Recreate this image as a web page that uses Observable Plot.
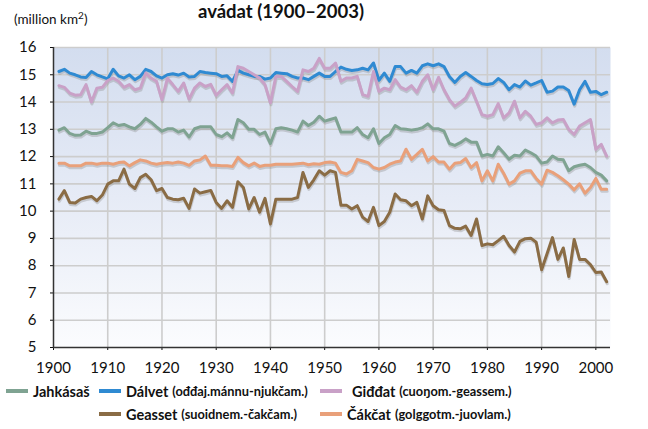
<!DOCTYPE html>
<html>
<head>
<meta charset="utf-8">
<script src="https://cdn.jsdelivr.net/npm/d3@7"></script>
<script src="https://cdn.jsdelivr.net/npm/@observablehq/plot@0.6"></script>
<style>
  body { margin: 0; background: #fff; font-family: Lato, "Open Sans", sans-serif; color: #111; }
  #wrap { position: relative; width: 648px; height: 429px; overflow: hidden; }
  #title { position: absolute; top: 0px; left: 0; width: 562px; text-align: center; font-size: 18.5px; line-height: 23px; font-weight: 700; white-space: nowrap; }
  #unit { position: absolute; top: 11px; left: 14px; font-size: 13.5px; white-space: nowrap; }
  #unit sup { font-size: 10px; vertical-align: 5px; line-height: 0; }
  #chart { position: absolute; top: 0; left: 0; }
  .item { position: absolute; display: flex; align-items: center; height: 20px; white-space: nowrap; font-weight: 700; }
  .sw { display: inline-block; width: 22px; height: 3.5px; margin-right: 5px; }
  .main { font-size: 14.5px; }
  .sub { font-size: 12.8px; margin-left: 4px; }
</style>
</head>
<body>
<div id="wrap">
  <div id="title">avádat (1900–2003)</div>
  <div id="unit">(million km<sup>2</sup>)</div>
  <div id="chart"></div>
  <div id="legend"></div>
</div>
<script>
// Years and series (million km²)
const years = [
  1901,1902,1903,1904,1905,1906,1907,1908,1909,1910,
  1911,1912,1913,1914,1915,1916,1917,1918,1919,1920,
  1921,1922,1923,1924,1925,1926,1927,1928,1929,1930,
  1931,1932,1933,1934,1935,1936,1937,1938,1939,1940,
  1941,1942,1943,1944,1945,1946,1947,1948,1949,1950,
  1951,1952,1953,1954,1955,1956,1957,1958,1959,1960,
  1961,1962,1963,1964,1965,1966,1967,1968,1969,1970,
  1971,1972,1973,1974,1975,1976,1977,1978,1979,1980,
  1981,1982,1983,1984,1985,1986,1987,1988,1989,1990,
  1991,1992,1993,1994,1995,1996,1997,1998,1999,2000,
  2001,2002
];

const jahkasas = [
  12.97,13.06,12.85,12.78,12.79,12.93,12.85,12.85,12.9,13.06,
  13.24,13.14,13.18,13.09,13.02,13.18,13.4,13.26,13.09,12.93,
  13.02,13.02,12.9,12.97,12.72,13.02,13.09,13.09,13.09,12.81,
  12.73,12.87,12.69,13.36,13.24,13.0,13.0,12.81,12.9,12.48,
  13.02,13.06,13.02,12.97,12.9,13.3,13.14,13.26,13.48,13.3,
  13.36,13.42,12.9,12.9,12.9,13.06,12.81,12.69,13.02,12.48,
  12.69,12.81,13.14,13.02,13.0,12.97,13.0,13.06,13.2,13.02,
  13.02,12.93,12.48,12.41,12.51,12.65,12.53,12.53,12.02,12.08,
  12.02,12.36,12.14,11.9,12.05,12.02,12.24,12.14,12.02,11.76,
  11.8,12.02,11.9,11.88,11.48,11.63,11.68,11.72,11.6,11.42,
  11.32,11.11
];

const dalvet = [
  15.12,15.2,15.06,15.0,14.92,14.9,15.12,15.0,14.92,14.85,
  15.2,14.96,14.88,15.0,14.82,14.94,15.2,15.12,14.96,14.88,
  15.0,15.04,14.99,15.06,14.92,14.94,15.12,15.08,15.06,15.04,
  14.94,14.96,14.76,15.16,15.06,15.0,14.94,14.94,14.84,14.88,
  15.08,15.06,15.04,14.94,14.88,14.88,14.82,14.94,15.06,14.94,
  14.94,15.12,15.28,15.2,15.16,15.18,15.24,15.18,15.43,14.8,
  15.06,14.76,15.3,15.3,15.06,15.16,15.06,15.33,15.4,15.33,
  15.4,15.3,14.94,14.72,14.94,15.08,14.94,14.79,14.67,14.64,
  14.68,14.86,14.72,14.45,14.64,14.55,14.77,14.62,14.7,14.79,
  14.36,14.4,14.55,14.55,14.42,13.92,14.45,14.76,14.36,14.39,
  14.27,14.36
];

const giddat = [
  14.6,14.54,14.33,14.25,14.27,14.64,14.0,14.51,14.54,14.79,
  14.88,14.76,14.54,14.64,14.45,14.51,15.06,14.88,14.76,14.09,
  14.87,14.64,14.39,14.7,14.11,14.51,14.7,14.57,14.65,14.25,
  14.45,14.64,14.33,15.3,15.24,15.12,15.0,14.88,14.64,13.97,
  14.94,14.94,14.76,14.57,14.39,15.18,15.12,15.24,15.6,15.24,
  15.24,15.43,14.76,14.88,14.88,14.94,14.27,14.21,15.12,14.39,
  14.51,14.45,14.82,14.55,14.45,14.6,14.36,14.76,15.0,14.45,
  14.91,14.45,14.09,13.85,13.99,14.15,14.51,14.03,13.54,13.48,
  13.54,13.94,13.42,13.6,14.03,13.42,13.66,13.48,13.18,13.24,
  13.42,13.24,13.34,13.36,13.0,12.81,13.12,13.24,13.36,12.27,
  12.45,12.02
];

const geasset = [
  10.44,10.75,10.32,10.3,10.44,10.5,10.54,10.38,10.59,10.99,
  11.11,11.11,11.54,10.99,10.83,11.23,11.35,11.15,10.75,10.83,
  10.5,10.44,10.42,10.47,10.1,10.81,10.66,10.71,10.76,10.32,
  10.1,10.38,10.14,11.08,10.87,10.08,10.5,9.96,10.47,9.53,
  10.44,10.44,10.44,10.44,10.5,11.42,10.87,11.15,11.48,11.32,
  11.48,11.42,10.22,10.22,10.08,10.2,9.78,9.62,10.14,9.47,
  9.62,9.96,10.63,10.42,10.38,10.2,10.32,9.71,10.56,10.2,
  10.05,10.02,9.47,9.37,9.35,9.45,9.11,9.71,8.74,8.8,
  8.77,8.92,9.08,8.74,8.5,8.89,8.99,9.01,8.86,7.85,
  8.44,9.03,8.23,8.65,7.6,8.96,8.23,8.23,8.04,7.75,
  7.77,7.41
];

const cakcat = [
  11.76,11.76,11.66,11.66,11.66,11.76,11.76,11.72,11.76,11.76,
  11.72,11.78,11.8,11.66,11.78,11.88,11.84,11.76,11.72,11.76,
  11.78,11.76,11.8,11.76,11.68,11.84,11.88,12.02,11.68,11.68,
  11.66,11.66,11.64,11.97,11.78,11.66,11.76,11.64,11.68,11.68,
  11.72,11.72,11.72,11.72,11.74,11.76,11.7,11.74,11.72,11.78,
  11.8,11.76,11.42,11.36,11.48,11.9,11.84,11.78,11.6,11.54,
  11.6,11.72,11.8,11.84,12.27,11.9,12.08,12.27,11.84,12.0,
  11.8,11.8,11.54,11.76,11.78,11.93,11.6,11.78,11.11,11.48,
  11.11,11.72,11.39,10.99,11.11,11.39,11.48,11.48,11.2,10.99,
  11.5,11.42,11.3,11.15,10.99,10.78,11.0,10.66,10.87,11.2,
  10.8,10.8
];

const seriesNames = ["Jahkásaš", "Dálvet", "Giđđat", "Geasset", "Čákčat"];
const seriesNotes = ["", "(ođđaj.mánnu-njukčam.)", "(cuoŋom.-geassem.)", "(suoidnem.-čakčam.)", "(golggotm.-juovlam.)"];
const seriesColors = ["#7fa392", "#2f8ad2", "#c9a1c7", "#8a6c45", "#e9a07a"];
const seriesValues = [jahkasas, dalvet, giddat, geasset, cakcat];

const xTicks = [1900,1910,1920,1930,1940,1950,1960,1970,1980,1990,2000];
const yTicks = [5,6,7,8,9,10,11,12,13,14,15,16];

const rows = seriesNames.flatMap((name, k) =>
  years.map((yr, i) => ({ year: yr, value: seriesValues[k][i], key: name }))
);

const svg = Plot.plot({
  width: 648,
  height: 380,
  marginTop: 47,
  marginLeft: 53,
  marginRight: 38,
  marginBottom: 33,
  style: { fontFamily: "Lato, 'Open Sans', sans-serif", fontSize: "15px", color: "#111", background: "transparent", overflow: "visible" },
  x: { domain: [1900, 2002.7], ticks: xTicks, tickFormat: d => String(d), tickSize: 3, tickPadding: 12, label: null },
  y: { domain: [5, 16], ticks: yTicks, tickSize: 3, tickPadding: 14, label: null },
  color: { domain: seriesNames, range: seriesColors },
  marks: [
    Plot.frame({ fill: "url(#bgGrad)", stroke: "none" }),
    Plot.ruleY(yTicks.slice(1), { stroke: "#cdcdcd", strokeWidth: 1.6 }),
    Plot.ruleX(xTicks.slice(1), { stroke: "#cdcdcd", strokeWidth: 1.6 }),
    Plot.line(rows, { x: "year", y: "value", z: "key", stroke: "#8a8a8a", strokeOpacity: 0.35, strokeWidth: 3, dy: 2, dx: 0.5 }),
    Plot.line(rows, { x: "year", y: "value", z: "key", stroke: "key", strokeWidth: 3 }),
    Plot.ruleX([1900], { stroke: "#333", strokeWidth: 1.5 }),
    Plot.ruleY([5], { stroke: "#333", strokeWidth: 1.5 })
  ]
});

const defs = d3.select(svg).insert("defs", ":first-child");
const grad = defs.append("linearGradient").attr("id", "bgGrad")
  .attr("x1", 0).attr("y1", 0).attr("x2", 0).attr("y2", 1);
grad.append("stop").attr("offset", "0%").attr("stop-color", "#d3ddef");
grad.append("stop").attr("offset", "50%").attr("stop-color", "#e6ebf6");
grad.append("stop").attr("offset", "100%").attr("stop-color", "#fbfcfe");
d3.select(svg).selectAll("[aria-label=frame] rect, rect[aria-label=frame]").attr("fill", "url(#bgGrad)");

document.getElementById("chart").appendChild(svg);

// Legend
const legendPos = [
  { left: 6, top: 381 },
  { left: 99, top: 381 },
  { left: 320, top: 381 },
  { left: 99, top: 404 },
  { left: 320, top: 404 }
];
const legend = document.getElementById("legend");
seriesNames.forEach((name, k) => {
  const div = document.createElement("div");
  div.className = "item";
  div.style.left = legendPos[k].left + "px";
  div.style.top = legendPos[k].top + "px";
  const sw = document.createElement("span");
  sw.className = "sw";
  sw.style.background = seriesColors[k];
  if (k === 2) sw.style.marginRight = "10px";
  div.appendChild(sw);
  const m = document.createElement("span");
  m.className = "main";
  m.textContent = name;
  div.appendChild(m);
  if (seriesNotes[k]) {
    const s = document.createElement("span");
    s.className = "sub";
    s.textContent = seriesNotes[k];
    div.appendChild(s);
  }
  legend.appendChild(div);
});
</script>
</body>
</html>
